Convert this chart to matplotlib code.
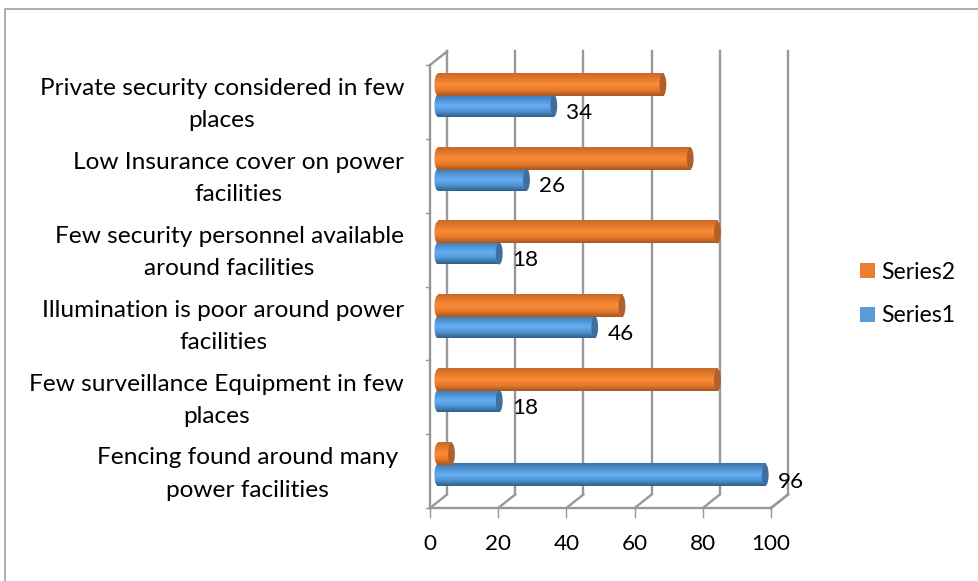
#!/usr/bin/env python3
"""Horizontal cylinder bars on a fake 3D wall, Excel style."""
import numpy as np
import matplotlib
matplotlib.use("Agg")
import matplotlib.pyplot as plt
from matplotlib.colors import LinearSegmentedColormap
from matplotlib.patches import Ellipse, Patch

CATEGORIES = ["Fencing found around many\npower facilities",
              "Few surveillance Equipment in few\nplaces",
              "Illumination is poor around power\nfacilities",
              "Few security personnel available\naround facilities",
              "Low Insurance cover on power\nfacilities",
              "Private security considered in few\nplaces"]
SERIES1 = [96, 18, 46, 18, 26, 34]
SERIES2 = [4, 82, 54, 82, 74, 66]
XTICKS = [0, 20, 40, 60, 80, 100]

W, H = 979, 581
FONT = "Lato"
FS = 16.2
FS_CAT = 17.6
GRID = "#989898"
DX, DY = 5.0, 0.183      # depth of the back wall, in data units
X0 = 2.3                 # bars start a bit off the front wall
CAP = 2.0                # cap width in x units
BAR_H = 0.3

BLUE = LinearSegmentedColormap.from_list("b", ["#2f5f8c", "#4f93d2", "#66aff2", "#4f93d2", "#3f75a8"])
ORANGE = LinearSegmentedColormap.from_list("o", ["#a9561f", "#e57a2c", "#fc8c38", "#e57a2c", "#c9682a"])

plt.rcParams["font.family"] = [FONT, "DejaVu Sans"]
fig = plt.figure(figsize=(W / 100, H / 100), dpi=100)
# chart frame: only left and top show in the crop
fig.add_artist(plt.Line2D([5.5 / W, 5.5 / W, 1], [0, 1 - 9 / H, 1 - 9 / H], transform=fig.transFigure,
                          color="#a0a0a0", lw=1.2))
ax = fig.add_axes([430 / W, 1 - 508 / H, 341 / W, 443 / H])
ax.set_axis_off()

grad = np.linspace(0, 1, 64).reshape(-1, 1)


def cylinder(val, yc, cmap, dark):
    y0, y1 = yc - BAR_H / 2, yc + BAR_H / 2
    # left end, same shading as the body
    left = Ellipse((X0, yc), CAP, BAR_H, fc="none", ec="none", zorder=4)
    ax.add_patch(left)
    im = ax.imshow(grad, extent=(X0 - CAP, X0, y0, y1), cmap=cmap, aspect="auto", zorder=4, origin="lower")
    im.set_clip_path(left)
    ax.imshow(grad, extent=(X0, X0 + val, y0, y1), cmap=cmap, aspect="auto", zorder=4, origin="lower")
    ax.add_patch(Ellipse((X0 + val, yc), CAP, BAR_H, fc=dark, ec="none", zorder=5))


# walls and floor
for t in XTICKS:
    ax.plot([t + DX, t + DX], [DY, 6 + DY], color=GRID, lw=1.7, clip_on=False, zorder=1)
    ax.plot([t, t + DX], [0, DY], color=GRID, lw=1.7, clip_on=False, zorder=1)
    ax.plot([t, t], [0, -0.12], color=GRID, lw=1.0, clip_on=False, zorder=1)
    ax.text(t, -0.49, str(t), ha="center", va="center", fontsize=FS, clip_on=False)
ax.plot([0, 100], [0, 0], color=GRID, lw=1.7, clip_on=False, zorder=1)
ax.plot([100, 100 + DX], [0, DY], color=GRID, lw=1.7, clip_on=False, zorder=1)
ax.plot([0, 0], [0, 6], color=GRID, lw=1.7, clip_on=False, zorder=2)
ax.plot([0, DX], [6, 6 + DY], color=GRID, lw=1.7, clip_on=False, zorder=2)
for i in range(7):
    ax.plot([-1.2, 0], [i, i], color=GRID, lw=1.0, clip_on=False, zorder=1)

for i, (a, b) in enumerate(zip(SERIES1, SERIES2)):
    cylinder(a, i + 0.448, BLUE, "#3f6f9e")
    cylinder(b, i + 0.733, ORANGE, "#b0602a")
    ax.text(X0 + a + 3.7, i + 0.355, str(a), ha="left", va="center", fontsize=FS, zorder=6, clip_on=False)
    # the bottom label sits a little further left in the original
    lx = -7.6 if i > 0 else -9.4
    ax.text(lx, i + 0.46, CATEGORIES[i], ha="right", va="center", ma="center",
            fontsize=FS_CAT, linespacing=1.66, clip_on=False)

ax.set_xlim(0, 100)
ax.set_ylim(0, 6)

handles = [Patch(fc="#ED7D31", label="Series2"), Patch(fc="#5B9BD5", label="Series1")]
fig.legend(handles=handles, loc="center left", bbox_to_anchor=(860 / W, 1 - 294 / H), frameon=False,
           fontsize=16.6, handlelength=0.65, handleheight=0.65, handletextpad=0.28, labelspacing=0.98,
           borderpad=0, borderaxespad=0)

fig.savefig("out.png", dpi=100)
